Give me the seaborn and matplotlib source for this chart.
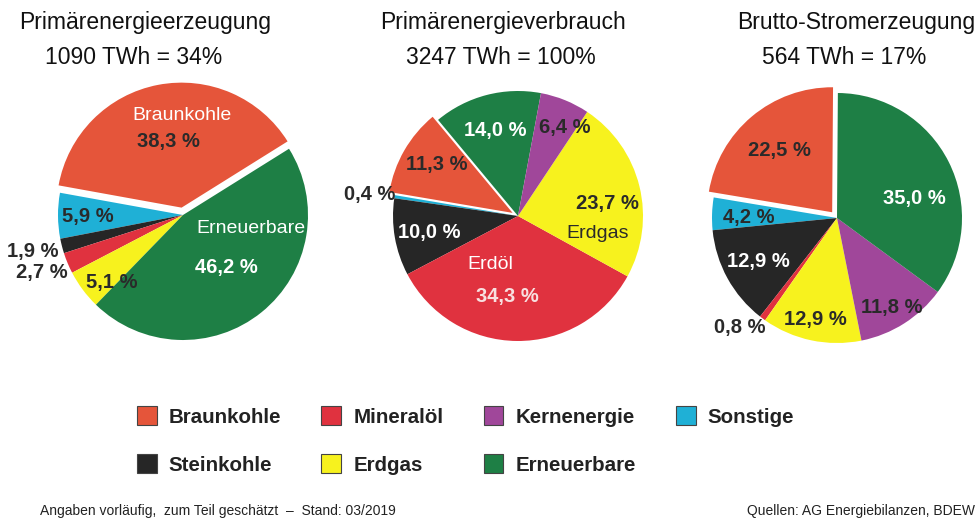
import numpy as np
import pandas as pd
import seaborn as sns
import matplotlib.pyplot as plt
from matplotlib.patches import Patch

sns.set_theme(style="white")
plt.rcParams['font.family'] = ['Liberation Sans', 'DejaVu Sans']

###################
## data (shares in %, listed counter-clockwise round each pie)
###################

erzeugung_carriers = ["Braunkohle", "Sonstige", "Steinkohle", "Mineralöl", "Erdgas", "Erneuerbare"]
erzeugung_share = [38.3, 5.9, 1.9, 2.7, 5.1, 46.2]

verbrauch_carriers = ["Erneuerbare", "Braunkohle", "Sonstige", "Steinkohle", "Mineralöl", "Erdgas", "Kernenergie"]
verbrauch_share = [14.0, 11.3, 0.4, 10.0, 34.3, 23.7, 6.4]

strom_carriers = ["Braunkohle", "Sonstige", "Steinkohle", "Mineralöl", "Erdgas", "Kernenergie", "Erneuerbare"]
strom_share = [22.5, 4.2, 12.9, 0.8, 12.9, 11.8, 35.0]

titles = ["Primärenergieerzeugung", "Primärenergieverbrauch", "Brutto-Stromerzeugung"]
subtitles = ["1090 TWh = 34%", "3247 TWh = 100%", "564 TWh = 17%"]

legend_order = ["Braunkohle", "Steinkohle", "Mineralöl", "Erdgas", "Kernenergie", "Erneuerbare", "Sonstige"]

###################
## style
###################

DARK = "#2a2a2a"
palette = {
    "Braunkohle": "#e5553a",
    "Mineralöl": "#e0323f",
    "Kernenergie": "#a0479a",
    "Sonstige": "#1fb0d6",
    "Steinkohle": "#262626",
    "Erdgas": "#f7f21e",
    "Erneuerbare": "#1e7f45",
}

# label placement: carrier -> (radius, angle nudge in degrees, colour)
pct_layout = [
    {"Braunkohle": (0.60, 0.7, DARK), "Sonstige": (0.76, 0.7, DARK), "Steinkohle": (1.24, -0.6, DARK),
     "Mineralöl": (1.22, -0.4, DARK), "Erdgas": (0.78, 6.8, DARK), "Erneuerbare": (0.545, 1.0, "white")},
    {"Erneuerbare": (0.71, 0, "white"), "Braunkohle": (0.77, -2.3, DARK), "Sonstige": (1.2, 0.8, DARK),
     "Steinkohle": (0.72, 1.0, "white"), "Mineralöl": (0.65, -7.2, "#f8e0e0"), "Erdgas": (0.72, -5.5, DARK),
     "Kernenergie": (0.8, -6, DARK)},
    {"Braunkohle": (0.71, 0, DARK), "Sonstige": (0.71, 1.3, DARK), "Steinkohle": (0.72, 0.3, "white"),
     "Mineralöl": (1.17, -4.9, DARK), "Erdgas": (0.83, 0, DARK), "Kernenergie": (0.84, -0.8, DARK),
     "Erneuerbare": (0.64, -12.3, "white")},
]
name_layout = [
    {"Braunkohle": ("Braunkohle", 0.80, -10.3, "white"), "Erneuerbare": ("Erneuerbare", 0.55, 40, "white")},
    {"Mineralöl": ("Erdöl", 0.45, -29, "white"), "Erdgas": ("Erdgas", 0.65, -26, DARK)},
    {},
]

pies = [
    (erzeugung_carriers, erzeugung_share, 32.0, 0.06),
    (verbrauch_carriers, verbrauch_share, 79.4, 0.05),
    (strom_carriers, strom_share, 89.6, 0.06),
]
centers = [(183, 215), (518, 216), (837, 218)]   # pixel centres of the pies
title_x = [145, 503, 856]
subtitle_x = [134, 501, 844]

W, H = 980, 520
fig = plt.figure(figsize=(W / 100, H / 100), dpi=100)
half = 150  # half size of each pie axes in px (radius 1 -> 125 px)

for i, (cars, share, start, expl) in enumerate(pies):
    cx, cy = centers[i]
    ax = fig.add_axes([(cx - half) / W, (H - cy - half) / H, 2 * half / W, 2 * half / H])
    explode = [expl if c == "Braunkohle" else 0 for c in cars]
    wedges, _ = ax.pie(share, colors=[palette[c] for c in cars], startangle=start,
                       counterclock=True, explode=explode, radius=1,
                       wedgeprops=dict(linewidth=0))
    ax.set_xlim(-1.2, 1.2)
    ax.set_ylim(-1.2, 1.2)
    ax.axis("off")

    for w, c, v in zip(wedges, cars, share):
        mid = (w.theta1 + w.theta2) / 2
        if c in pct_layout[i]:
            rr, da, col = pct_layout[i][c]
            a = np.deg2rad(mid + da)
            ax.text(rr * np.cos(a), rr * np.sin(a), f"{v:.1f} %".replace(".", ","),
                    ha="center", va="center", fontsize=14.5, fontweight="bold", color=col)
        if c in name_layout[i]:
            txt, rr, da, col = name_layout[i][c]
            a = np.deg2rad(mid + da)
            ax.text(rr * np.cos(a), rr * np.sin(a), txt,
                    ha="center", va="center", fontsize=14, color=col)

    fig.text(title_x[i] / W, 1 - 29 / H, titles[i], ha="center", va="baseline", fontsize=16.5, color="#111")
    fig.text(subtitle_x[i] / W, 1 - 64 / H, subtitles[i], ha="center", va="baseline", fontsize=16.5, color="#111")

handles = [Patch(facecolor=palette[c], edgecolor="#444", linewidth=0.8, label=c) for c in legend_order]
fig.legend(handles=handles, ncol=4, loc="upper left", bbox_to_anchor=(137 / W, 1 - 406 / H),
           frameon=False, borderpad=0, borderaxespad=0,
           prop=dict(weight="bold", size=14.8), labelcolor="#222",
           handlelength=0.97, handleheight=1.07, handletextpad=0.58,
           columnspacing=1.95, labelspacing=1.33)

fig.text(40 / W, 1 - 511 / H, "Angaben vorläufig,  zum Teil geschätzt  –  Stand: 03/2019",
         ha="left", va="center", fontsize=10, color="#222")
fig.text(975 / W, 1 - 511 / H, "Quellen: AG Energiebilanzen, BDEW",
         ha="right", va="center", fontsize=10, color="#222")

plt.savefig("out.png", dpi=100)
plt.close()
